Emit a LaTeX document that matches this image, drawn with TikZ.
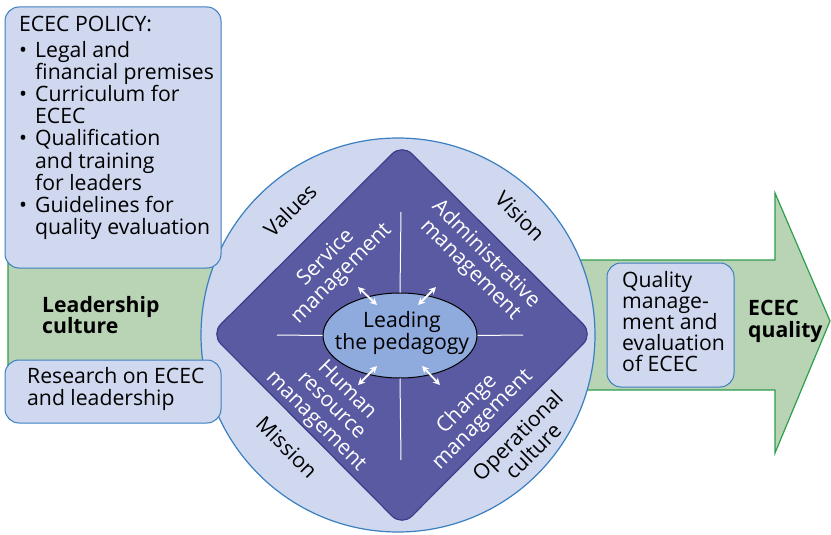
\documentclass[tikz,border=0pt]{standalone}
\usepackage{fontspec}
\setmainfont{Open Sans}
\usetikzlibrary{shapes.geometric,arrows.meta}
\definecolor{boxfill}{HTML}{CFD8EE}
\definecolor{boxline}{HTML}{3A7FC0}
\definecolor{grfill}{HTML}{B9D3B5}
\definecolor{grline}{HTML}{2E9E4F}
\definecolor{dia}{HTML}{5A5AA2}
\definecolor{dialine}{HTML}{3C3C8C}
\definecolor{ell}{HTML}{8FAADC}
\tikzset{
  bluebox/.style={draw=boxline, fill=boxfill, line width=1pt, rounded corners=14pt},
  txt/.style={font=\fontsize{21.2}{22}\selectfont, inner sep=0pt},
  btxt/.style={font=\fontsize{21.2}{21}\selectfont\bfseries, inner sep=0pt},
  wtxt/.style={txt, text=white, align=center},
  wline/.style={draw=white, line width=1pt},
  warr/.style={draw=white, line width=1.8pt, {Stealth[length=7pt,width=7pt]}-{Stealth[length=7pt,width=7pt]}}
}
\begin{document}
\begin{tikzpicture}[x=1pt,y=-1pt]
\useasboundingbox (0,0) rectangle (831,535);
% green arrow
\draw[grline, fill=grfill, line width=1.2pt]
  (8,260) -- (775,260) -- (775,193) -- (830,321) -- (775,453) -- (775,390) -- (8,390) -- cycle;
% circle
\node[circle, draw=boxline, fill=boxfill, line width=1.2pt, minimum size=394pt, inner sep=0pt] (circ) at (398,335) {};
% diamond
\draw[dialine, fill=dia, line width=1.2pt, rounded corners=14pt]
  (402,144) -- (593,334) -- (402,526) -- (211,334) -- cycle;
% ellipse
\node[ellipse, draw=black, fill=ell, line width=1pt, minimum width=154pt, minimum height=85pt, inner sep=0pt] (ell) at (400,335.5) {};
\node[txt, align=center] (lead) at (402,333) {Leading\\the pedagogy};
% cross lines
\coordinate (vt) at (401,212);
\coordinate (vb) at (401,460);
\coordinate (hl) at (277,335);
\coordinate (hr) at (523,335);
\draw[wline] (vt) -- (ell.north);
\draw[wline] (ell.south) -- (vb);
\draw[wline] (hl) -- (ell.west);
\draw[wline] (ell.east) -- (hr);
% double arrows
\coordinate (a1) at (358,287); \coordinate (a2) at (377,305);
\coordinate (b1) at (436,287); \coordinate (b2) at (418,305);
\coordinate (c1) at (377,366); \coordinate (c2) at (358,385);
\coordinate (d1) at (422,366); \coordinate (d2) at (440,385);
\draw[warr] (a1) -- (a2);
\draw[warr] (b1) -- (b2);
\draw[warr] (c1) -- (c2);
\draw[warr] (d1) -- (d2);
% diamond texts
\node[wtxt, rotate=45] (serv) at (334,266) {Service\\management};
\node[wtxt, rotate=-45] (admin) at (478,262) {Administrative\\management};
\node[wtxt, rotate=-45] (hum) at (331,406) {Human\\resource\\management};
\node[wtxt, rotate=45] (chg) at (475,412) {Change\\management};
% circle texts
\node[txt, rotate=45] (val) at (290,210) {Values};
\node[txt, rotate=-45] (vis) at (520,216) {Vision};
\node[txt, rotate=-45] (mis) at (287,447) {Mission};
\node[txt, rotate=45, align=center] (op) at (525,443) {Operational\\culture};
% left boxes
\draw[bluebox] (5,7) rectangle (221,268);
\node[txt, anchor=base west] (pol) at (19,32) {ECEC POLICY:};
\node[txt, anchor=base west] (b1) at (19,58) {•};
\node[txt, anchor=base west] (l1) at (35,58) {Legal and};
\node[txt, anchor=base west] (l2) at (35,80) {financial premises};
\node[txt, anchor=base west] (b2) at (19,102) {•};
\node[txt, anchor=base west] (l3) at (35,102) {Curriculum for};
\node[txt, anchor=base west] (l4) at (35,124) {ECEC};
\node[txt, anchor=base west] (b3) at (19,146) {•};
\node[txt, anchor=base west] (l5) at (35,146) {Qualification};
\node[txt, anchor=base west] (l6) at (35,168) {and training};
\node[txt, anchor=base west] (l7) at (35,190) {for leaders};
\node[txt, anchor=base west] (b4) at (19,212) {•};
\node[txt, anchor=base west] (l8) at (35,212) {Guidelines for};
\node[txt, anchor=base west] (l9) at (35,234) {quality evaluation};
\draw[bluebox] (5,360) rectangle (221,423);
\node[txt, anchor=base west] (r1) at (27,383) {Research on ECEC};
\node[txt, anchor=base west] (r2) at (27,405) {and leadership};
\node[btxt, anchor=base west] (lc1) at (42,312) {Leadership};
\node[btxt, anchor=base west] (lc2) at (42,333) {culture};
% right box
\draw[bluebox] (607,263) rectangle (734,387);
\node[txt, anchor=base west] (q1) at (622,287) {Quality};
\node[txt, anchor=base west] (q2) at (622,308) {manage-};
\node[txt, anchor=base west] (q3) at (622,329) {ment and};
\node[txt, anchor=base west] (q4) at (622,350) {evaluation};
\node[txt, anchor=base west] (q5) at (622,371) {of ECEC};
\node[btxt, anchor=base west] (e1) at (748,315) {ECEC};
\node[btxt, anchor=base west] (e2) at (748,337) {quality};
\end{tikzpicture}
\end{document}
